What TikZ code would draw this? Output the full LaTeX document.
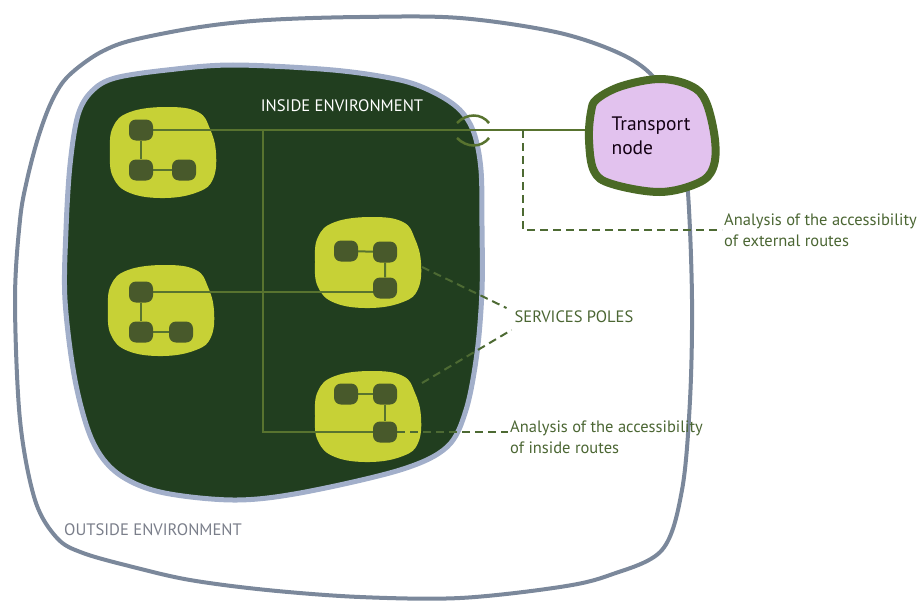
\documentclass[tikz,border=0pt]{standalone}
\usepackage{fontspec}
\setmainfont{PT Sans}
\usetikzlibrary{calc}

\definecolor{outerc}{HTML}{7B889B}
\definecolor{innerc}{HTML}{A2AFCA}
\definecolor{darkg}{HTML}{213E1F}
\definecolor{polec}{HTML}{C7D136}
\definecolor{sqc}{HTML}{48592B}
\definecolor{netc}{HTML}{58732F}
\definecolor{tnbord}{HTML}{4B6A26}
\definecolor{tnfill}{HTML}{E2C2EE}
\definecolor{dashc}{HTML}{4D6A33}
\definecolor{textg}{HTML}{4B6633}
\definecolor{outtext}{HTML}{7A7E8A}

\pgfdeclarelayer{shapes}
\pgfdeclarelayer{wires}
\pgfsetlayers{shapes,wires,main}

% a service pole blob, top-left corner of its box at (#1,#2)
\newcommand{\drawpole}[2]{%
  \fill[polec, shift={(#1,#2)}] plot[smooth cycle, tension=0.7] coordinates
    {(3,20) (20,5) (57,0) (88,5) (100,22) (106,46) (103,72) (88,85) (55,91) (20,86) (3,70) (0,45)};}

\begin{document}
\begin{tikzpicture}[x=1pt, y=-1pt,
  sq/.style={rectangle, rounded corners=7pt, fill=sqc, minimum width=24pt, minimum height=21pt, inner sep=0pt},
  net/.style={draw=netc, line width=2pt},
  dashline/.style={draw=dashc, line width=2pt, dash pattern=on 8pt off 5pt},
  lbl/.style={font=\fontsize{16.5}{20.5}\selectfont, text=textg, align=left, inner sep=2pt}]
\useasboundingbox (0,0) rectangle (920,602);

\begin{pgfonlayer}{shapes}
  % outside environment
  \draw[outerc, line width=4pt] plot[smooth cycle, tension=0.55] coordinates
    {(15,300) (20,220) (27,180) (38,138) (50,105) (63,82) (80,66) (103,51) (133,40) (200,27)
     (267,20) (360,17) (460,18) (560,33) (627,57) (660,85) (680,130) (688,193)
     (692,300) (690,400) (682,490) (662,550) (610,575) (560,587) (460,598) (360,597)
     (267,590) (190,580) (133,567) (83,553) (57,538) (35,500) (20,420)};
  % inside environment
  \filldraw[draw=innerc, fill=darkg, line width=5pt] plot[smooth cycle, tension=0.55] coordinates
    {(65,300) (66,230) (70,165) (78,115) (92,91) (115,78) (167,70) (233,65) (333,70)
     (400,80) (435,93) (460,110) (474,133) (481,170) (482,227) (482,290) (477,353)
     (466,410) (447,447) (400,470) (300,493) (233,500) (160,492) (117,473) (92,440) (75,380)};
  % service poles
  \drawpole{110}{107}
  \drawpole{108}{265}
  \drawpole{315}{217}
  \drawpole{315}{371}
\end{pgfonlayer}

% small nodes inside the poles
\node[sq] (p1a) at (141,130) {};
\node[sq] (p1b) at (141,170) {};
\node[sq] (p1c) at (184,170) {};
\node[sq] (p2a) at (141,292) {};
\node[sq] (p2b) at (141,332) {};
\node[sq] (p2c) at (181,332) {};
\node[sq] (p3a) at (346,251) {};
\node[sq] (p3b) at (385,252) {};
\node[sq] (p3c) at (385,288) {};
\node[sq] (p4a) at (346,394) {};
\node[sq] (p4b) at (385,394) {};
\node[sq] (p4c) at (385,432) {};

% transport node
\draw[draw=tnbord, fill=tnfill, line width=8pt] plot[smooth cycle, tension=0.6] coordinates
  {(597,99) (622,86) (660,79) (691,86) (706,102) (715,140) (713,168) (698,183)
   (660,192) (612,184) (594,171) (589,140) (591,112)};
\node[font=\fontsize{19.5}{23.5}\selectfont, text=black!85!violet, align=left] (tn) at (651,136) {Transport\\node};
\coordinate (tnw) at (589,130);

% labels
\node[font=\fontsize{16.6}{19}\selectfont, text=white] (inside) at (342,106) {INSIDE ENVIRONMENT};
\node[font=\fontsize{16.6}{19}\selectfont, text=outtext] (outside) at (153,530) {OUTSIDE ENVIRONMENT};
\node[lbl] (sp) at (574,317) {SERVICES POLES};
\node[lbl, anchor=west] (ext) at (722,230) {Analysis of the accessibility\\of external routes};
\node[lbl, anchor=west] (ins) at (508,437) {Analysis of the accessibility\\of inside routes};

\coordinate (j1) at (263,130);
\coordinate (j3) at (523,130);
\coordinate (p3e) at (422,267);
\coordinate (p4e) at (422,383);

\begin{pgfonlayer}{wires}
  % routes inside the poles
  \draw[net] (p1a) -- (p1b) -- (p1c);
  \draw[net] (p2a) -- (p2b) -- (p2c);
  \draw[net] (p3a) -- (p3b) -- (p3c);
  \draw[net] (p4a) -- (p4b) -- (p4c);
  % inside network and link to the transport node
  \draw[net] (p1a) -- (tnw);
  \draw[net] (j1) |- (p4c);
  \draw[net] (p2a) -- (p2a -| p3c);
  % crossing of the inside boundary
  \draw[netc, line width=2.5pt] (457,123) .. controls (467,113) and (481,113) .. (489,123);
  \draw[netc, line width=2.5pt] (457,138) .. controls (467,148) and (481,148) .. (489,138);
  % annotation leaders
  \draw[dashline] (j3) |- (ext.west);
  \draw[dashline] (p4c) -- (p4c -| ins.west);
  \draw[dashline] (p3e) -- ($(sp.west)+(-6,-9)$);
  \draw[dashline] (p4e) -- ($(sp.west)+(-1,13)$);
\end{pgfonlayer}
\end{tikzpicture}
\end{document}
